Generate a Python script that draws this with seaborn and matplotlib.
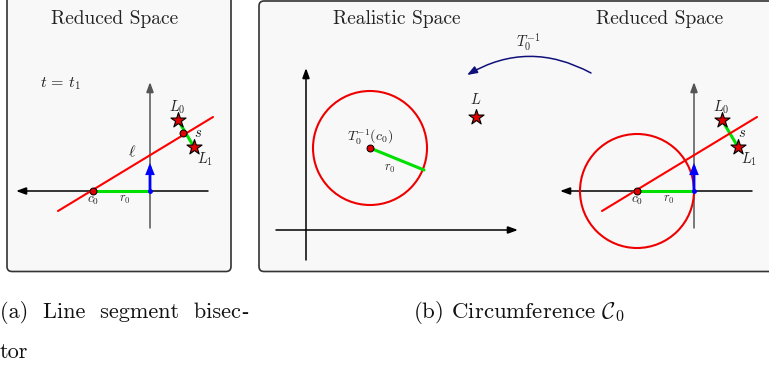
import numpy as np
import matplotlib
matplotlib.use("Agg")
import matplotlib.pyplot as plt
from matplotlib.patches import FancyBboxPatch, FancyArrowPatch, Circle
import seaborn as sns

sns.set_style("white")
plt.rcParams["mathtext.fontset"] = "cm"
plt.rcParams["font.family"] = ["cmr10", "DejaVu Serif"]
plt.rcParams["axes.unicode_minus"] = False

# ---- geometry (pixel units of the page, y grows downward) ----
# reduced-space panels share one local layout, placed at two origins
reduced_origins_x = [150, 694]
reduced_origins_y = [191, 191]
c0_local = (-57, 0)
bisector_x = [-92, 63]
bisector_y = [20, -74]
stars_x = [28, 44]            # L0, L1
stars_y = [-71, -44]
velocity_tip = -28
h_axis_x = [58, -134]
v_axis_y = [37, -109]

# realistic space
real_origin = (306, 230)
real_h_axis_x = [276, 518]
real_v_axis_y = [260, 68]
circle_center = (370, 148)
circle_radius = 57
radius_end = (424, 170)
landmark_L = (476, 117)

# inverse transform arrow
arc_start = (591, 73)
arc_end = (467, 75)

titles = ["Reduced Space", "Realistic Space", "Reduced Space"]
titles_x = [115, 397, 660]

fig = plt.figure(figsize=(7.69, 3.67), dpi=100)
ax = fig.add_axes([0, 0, 1, 1])
ax.set_xlim(0, 769)
ax.set_ylim(367, 0)
ax.axis("off")

# panel frames
for x0, x1, y0 in [(7, 231, -8), (259, 775, 1)]:
    ax.add_patch(FancyBboxPatch((x0, y0), x1 - x0, 271.5 - y0,
                                boxstyle="round,pad=0,rounding_size=5",
                                fc="#f8f8f8", ec="#333333", lw=1.2, zorder=0))

for t, tx in zip(titles, titles_x):
    ax.text(tx, 19, t, ha="center", va="center", fontsize=14, color="#222222")


def arrow(p0, p1, color, lw=1.1, hl=0.6, hw=0.22, z=2):
    ax.add_patch(FancyArrowPatch(p0, p1, arrowstyle=f"-|>,head_length={hl},head_width={hw}",
                                 mutation_scale=10, color=color, lw=lw, zorder=z,
                                 shrinkA=0, shrinkB=0, joinstyle="miter"))


def star_points(xs, ys):
    sns.scatterplot(x=xs, y=ys, marker="*", s=130, color="#e00000",
                    edgecolor="black", linewidth=0.8, ax=ax, zorder=6, legend=False)


label_kw = dict(ha="center", va="center", color="#222222")

for k, (ox, oy) in enumerate(zip(reduced_origins_x, reduced_origins_y)):
    # axes
    arrow((ox + h_axis_x[0], oy), (ox + h_axis_x[1], oy), "black")
    arrow((ox, oy + v_axis_y[0]), (ox, oy + v_axis_y[1]), "#555555")
    cx, cy = ox + c0_local[0], oy + c0_local[1]
    if k == 1:
        ax.add_patch(Circle((cx, cy), abs(c0_local[0]), fill=False, ec="#ee0000", lw=1.5, zorder=3))
    # radius r0
    sns.lineplot(x=[cx, ox], y=[cy, oy], color="#00e000", lw=2.2, ax=ax, sort=False,
                 estimator=None, zorder=3)
    # velocity direction
    arrow((ox, oy), (ox, oy + velocity_tip), "#0000ff", lw=2.0, hl=0.5, hw=0.2, z=4)
    ax.plot([ox], [oy], "o", ms=2.5, color="#0000ff", zorder=5)
    # bisector
    sns.lineplot(x=[ox + v for v in bisector_x], y=[oy + v for v in bisector_y],
                 color="#ff0000", lw=1.5, ax=ax, sort=False, estimator=None, zorder=4)
    # segment L0-L1
    sx = [ox + v for v in stars_x]
    sy = [oy + v for v in stars_y]
    sns.lineplot(x=sx, y=sy, color="#00e000", lw=2.2, ax=ax, sort=False, estimator=None, zorder=3)
    if k == 0:
        ax.plot([np.mean(sx) - 3], [np.mean(sy) - 1], "o", ms=5, mfc="#e00000", mec="black",
                mew=0.7, zorder=5)
        ax.text(ox - 18, oy - 39, r"$\ell$", fontsize=11.5, **label_kw)
    star_points(sx, sy)
    ax.plot([cx], [cy], "o", ms=5, mfc="#e00000", mec="black", mew=0.7, zorder=6)
    ax.text(ox + 27, oy - 84, r"$L_0$", fontsize=10.5, **label_kw)
    ax.text(ox + 55, oy - 32, r"$L_1$", fontsize=10.5, **label_kw)
    ax.text(ox + 48, oy - 58, r"$s$", fontsize=10.5, **label_kw)
    ax.text(cx, oy + 10, r"$c_0$", fontsize=9.5, **label_kw)
    ax.text(ox - 25, oy + 8, r"$r_0$", fontsize=9, ha="center", va="center", color="#333333")

ax.text(60, 84, r"$t\,=\,t_1$", fontsize=11.5, **label_kw)

# realistic space
arrow((real_h_axis_x[0], real_origin[1]), (real_h_axis_x[1], real_origin[1]), "black")
arrow((real_origin[0], real_v_axis_y[0]), (real_origin[0], real_v_axis_y[1]), "black")
ax.add_patch(Circle(circle_center, circle_radius, fill=False, ec="#ee0000", lw=1.5, zorder=3))
sns.lineplot(x=[circle_center[0], radius_end[0]], y=[circle_center[1], radius_end[1]],
             color="#00e000", lw=2.2, ax=ax, sort=False, estimator=None, zorder=3)
ax.plot([circle_center[0]], [circle_center[1]], "o", ms=5, mfc="#e00000", mec="black", mew=0.7, zorder=6)
ax.text(circle_center[0], circle_center[1] - 11, r"$T_0^{-1}(c_0)$", fontsize=10, **label_kw)
ax.text(390, 168, r"$r_0$", fontsize=9, ha="center", va="center", color="#333333")
star_points([landmark_L[0]], [landmark_L[1]])
ax.text(landmark_L[0], landmark_L[1] - 17, r"$L$", fontsize=10.5, **label_kw)

# inverse transform arrow
ax.add_patch(FancyArrowPatch(arc_start, arc_end, connectionstyle="arc3,rad=0.28",
                             arrowstyle="-|>,head_length=0.6,head_width=0.22", mutation_scale=10,
                             color="#10107a", lw=1.1, zorder=2, shrinkA=0, shrinkB=0))
ax.text(528, 42, r"$T_0^{-1}$", fontsize=10.5, **label_kw)

# captions (the line-break hyphen is set in a font that has the glyph)
cap_kw = dict(fontsize=16, ha="left", va="center", color="#111111")
cap_a = ax.text(0, 312, "(a)  Line  segment  bisec", **cap_kw)
fig.canvas.draw()
bb = cap_a.get_window_extent(fig.canvas.get_renderer())
hyphen_x = ax.transData.inverted().transform((bb.x1, bb.y0))[0]
ax.text(hyphen_x + 0.5, 313, "-", fontsize=15, ha="left", va="center", color="#111111",
        family="Liberation Serif")
ax.text(0, 352, "tor", **cap_kw)
ax.text(413, 312, r"(b) Circumference $\mathcal{C}_0$", fontsize=16.5, ha="left", va="center",
        color="#111111")

fig.savefig("out.png", dpi=100)
